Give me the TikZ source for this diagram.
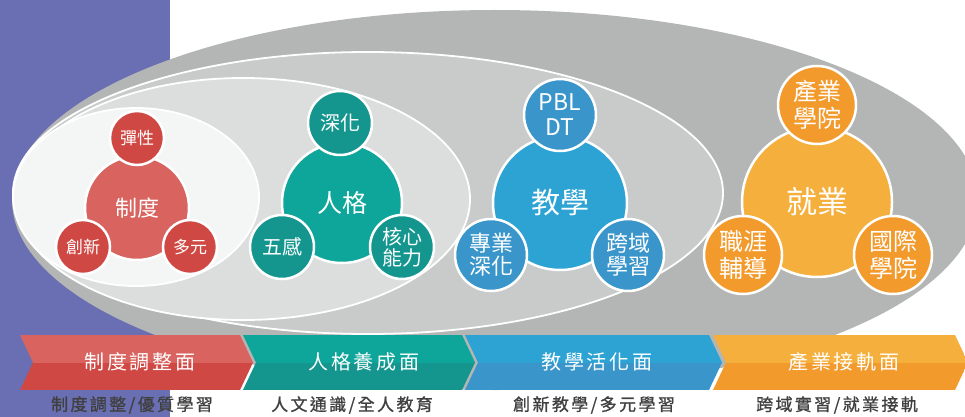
\documentclass[tikz,border=0pt]{standalone}
\usepackage{fontspec}
\setmainfont{Noto Sans CJK TC}
\definecolor{purp}{HTML}{6A6FB3}
\definecolor{g1}{HTML}{B4B5B5}
\definecolor{g2}{HTML}{C9CACA}
\definecolor{g3}{HTML}{DCDDDD}
\definecolor{g4}{HTML}{F4F6F6}
\definecolor{redA}{HTML}{D9635E}
\definecolor{redB}{HTML}{CF4843}
\definecolor{tealA}{HTML}{0EA59A}
\definecolor{tealB}{HTML}{14968F}
\definecolor{blueA}{HTML}{2DA3D4}
\definecolor{blueB}{HTML}{3A96CA}
\definecolor{oraA}{HTML}{F5AF3C}
\definecolor{oraB}{HTML}{F39A2C}
\definecolor{txt}{HTML}{404040}
\tikzset{
  bigc/.style={circle, draw=white, line width=2.5pt, inner sep=0pt, text=white, align=center},
  smallc/.style={circle, draw=white, line width=2.5pt, inner sep=0pt, text=white, align=center},
  ring/.style={draw=white, line width=1.8pt},
  chevtext/.style={text=white, font=\fontsize{20}{22}\selectfont\addfontfeature{LetterSpace=14}},
  subtext/.style={text=txt, font=\fontsize{17}{19}\selectfont\addfontfeature{LetterSpace=14,FakeBold=1}},
}
\begin{document}
\begin{tikzpicture}[x=1pt,y=-1pt]
\useasboundingbox (0,0) rectangle (965,417);
\clip (0,0) rectangle (965,417);
\fill[purp] (0,0) rectangle (170,417);
% nested ellipses
\fill[g1] (495,200) ellipse [x radius=483pt, y radius=190pt];
\path[fill=g2, ring] (368,193) ellipse [x radius=355pt, y radius=141pt];
\path[fill=g3, ring] (243,199) ellipse [x radius=227pt, y radius=121pt];
\path[fill=g4, ring] (136,197) ellipse [x radius=123pt, y radius=89pt];

% cluster 1
\node[bigc, fill=redA, minimum size=104pt, font=\fontsize{22}{24}\selectfont] (zd) at (137,208) {制度};
\node[smallc, fill=redB, minimum size=54pt, font=\fontsize{17}{19}\selectfont] (tx) at (137,138) {彈性};
\node[smallc, fill=redB, minimum size=54pt, font=\fontsize{17}{19}\selectfont] (cx) at (83,247) {創新};
\node[smallc, fill=redB, minimum size=54pt, font=\fontsize{17}{19}\selectfont] (dy) at (190,247) {多元};

% cluster 2
\node[bigc, fill=tealA, minimum size=120pt, font=\fontsize{25}{27}\selectfont] (rg) at (342,203) {人格};
\node[smallc, fill=tealB, minimum size=64pt, font=\fontsize{20}{22}\selectfont] (sh) at (340,123) {深化};
\node[smallc, fill=tealB, minimum size=64pt, font=\fontsize{20}{22}\selectfont] (wg) at (282,247) {五感};
\node[smallc, fill=tealB, minimum size=64pt, font=\fontsize{20}{21}\selectfont] (hx) at (402,247) {核心\\能力};

% cluster 3
\node[bigc, fill=blueA, minimum size=134pt, font=\fontsize{29}{31}\selectfont] (jx) at (560,203) {教學};
\node[smallc, fill=blueB, minimum size=72pt, font=\fontsize{23}{25}\selectfont] (pbl) at (560,115) {PBL\\DT};
\node[smallc, fill=blueB, minimum size=72pt, font=\fontsize{22}{23}\selectfont] (zy) at (491,255) {專業\\深化};
\node[smallc, fill=blueB, minimum size=72pt, font=\fontsize{22}{23}\selectfont] (ky) at (628,255) {跨域\\學習};

% cluster 4
\node[bigc, fill=oraA, minimum size=150pt, font=\fontsize{31}{33}\selectfont] (jy) at (817,202) {就業};
\node[smallc, fill=oraB, minimum size=78pt, font=\fontsize{24}{27}\selectfont] (cy) at (817,105) {產業\\學院};
\node[smallc, fill=oraB, minimum size=78pt, font=\fontsize{24}{27}\selectfont] (zhy) at (743,255) {職涯\\輔導};
\node[smallc, fill=oraB, minimum size=78pt, font=\fontsize{24}{27}\selectfont] (gj) at (893,255) {國際\\學院};

% chevrons
\begin{scope}
\clip (20,335) -- (240,335) -- (253,362.5) -- (240,390) -- (20,390) -- (33,362.5) -- cycle;
\fill[redA] (0,335) rectangle (300,363);
\fill[redB] (0,363) rectangle (300,390);
\end{scope}
\begin{scope}
\clip (243,335) -- (462,335) -- (475,362.5) -- (462,390) -- (243,390) -- (256,362.5) -- cycle;
\fill[tealA] (230,335) rectangle (500,363);
\fill[tealB] (230,363) rectangle (500,390);
\end{scope}
\begin{scope}
\clip (465,335) -- (709,335) -- (722,362.5) -- (709,390) -- (465,390) -- (478,362.5) -- cycle;
\fill[blueA] (450,335) rectangle (740,363);
\fill[blueB] (450,363) rectangle (740,390);
\end{scope}
\begin{scope}
\clip (713,335) -- (955,335) -- (968,362.5) -- (955,390) -- (713,390) -- (726,362.5) -- cycle;
\fill[oraA] (700,335) rectangle (980,363);
\fill[oraB] (700,363) rectangle (980,390);
\end{scope}
\node[chevtext] (c1) at (140,362) {制度調整面};
\node[chevtext] (c2) at (364,362) {人格養成面};
\node[chevtext] (c3) at (597,362) {教學活化面};
\node[chevtext] (c4) at (844,362) {產業接軌面};

\node[subtext] (s1) at (132,405) {制度調整/優質學習};
\node[subtext] (s2) at (352,405) {人文通識/全人教育};
\node[subtext] (s3) at (594,405) {創新教學/多元學習};
\node[subtext] (s4) at (837,405) {跨域實習/就業接軌};
\end{tikzpicture}
\end{document}
